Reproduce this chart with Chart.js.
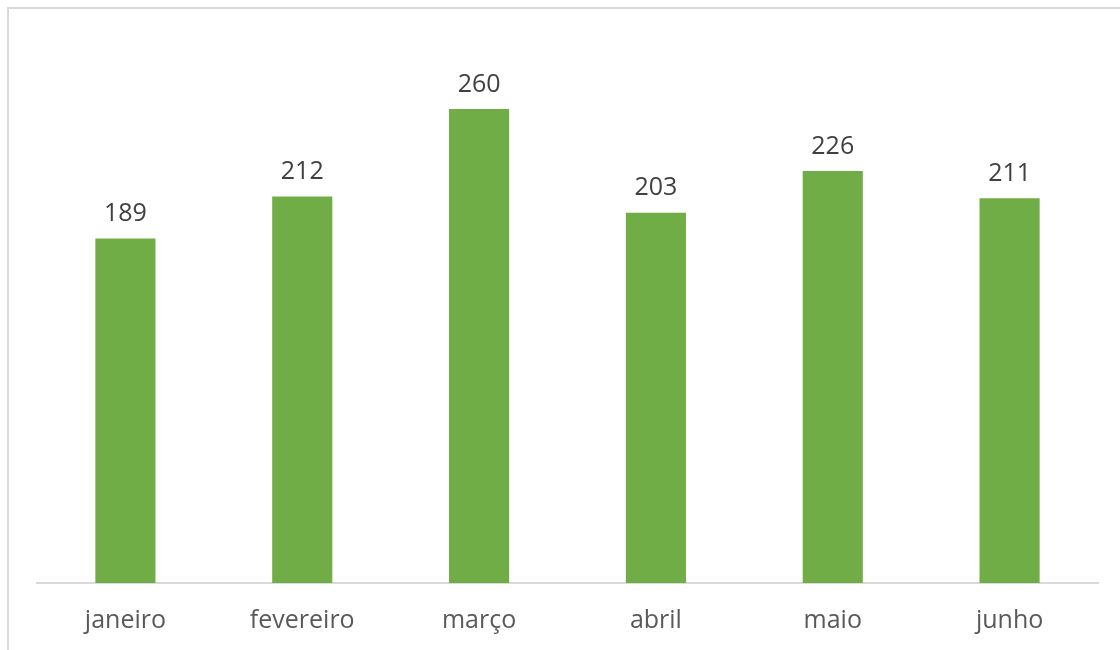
<!DOCTYPE html>
<html>
<head>
<meta charset="utf-8">
<script src="https://cdn.jsdelivr.net/npm/chart.js@4"></script>
<style>
  html, body { margin: 0; padding: 0; background: #fff; overflow: hidden; }
  #frame { position: absolute; left: 7px; top: 7px; width: 1200px; height: 700px;
           border: 2px solid #d9d9d9; box-sizing: border-box; }
  #wrap { position: absolute; left: 0; top: 0; width: 1120px; height: 650px; }
</style>
</head>
<body>
<div id="frame"></div>
<div id="wrap"><canvas id="chart" width="1120" height="650"></canvas></div>
<script>
// monthly values
const months = ['janeiro', 'fevereiro', 'março', 'abril', 'maio', 'junho'];
const values = [189, 212, 260, 203, 226, 211];
const yMin = 0;
const yMax = 300;

const FONT = '"Open Sans", "Noto Sans", sans-serif';

// draw value labels above each bar
const valueLabels = {
    id: 'valueLabels',
    afterDatasetsDraw(chart) {
        const ctx = chart.ctx;
        const meta = chart.getDatasetMeta(0);
        ctx.save();
        ctx.fillStyle = '#404040';
        ctx.font = '25px ' + FONT;
        ctx.textAlign = 'center';
        ctx.textBaseline = 'bottom';
        meta.data.forEach((bar, i) => {
            ctx.fillText(String(values[i]), bar.x, bar.y - 12);
        });
        ctx.restore();
    },
};

new Chart(document.getElementById('chart').getContext('2d'), {
    type: 'bar',
    data: {
        labels: months,
        datasets: [{
            data: values,
            backgroundColor: '#70ad47',
            borderWidth: 0,
            barPercentage: 0.34,
            categoryPercentage: 1,
        }],
    },
    options: {
        responsive: false,
        animation: false,
        layout: { padding: { left: 37, right: 22, top: 36, bottom: 0 } },
        plugins: { legend: { display: false }, tooltip: { enabled: false } },
        scales: {
            x: {
                grid: { display: false, drawTicks: false },
                border: { color: '#d9d9d9', width: 2 },
                ticks: { color: '#595959', font: { family: FONT, size: 25 }, padding: 23 },
                afterFit(scale) { scale.height = 67; },
            },
            y: {
                display: false,
                min: yMin,
                max: yMax,
            },
        },
    },
    plugins: [valueLabels],
});
</script>
</body>
</html>
